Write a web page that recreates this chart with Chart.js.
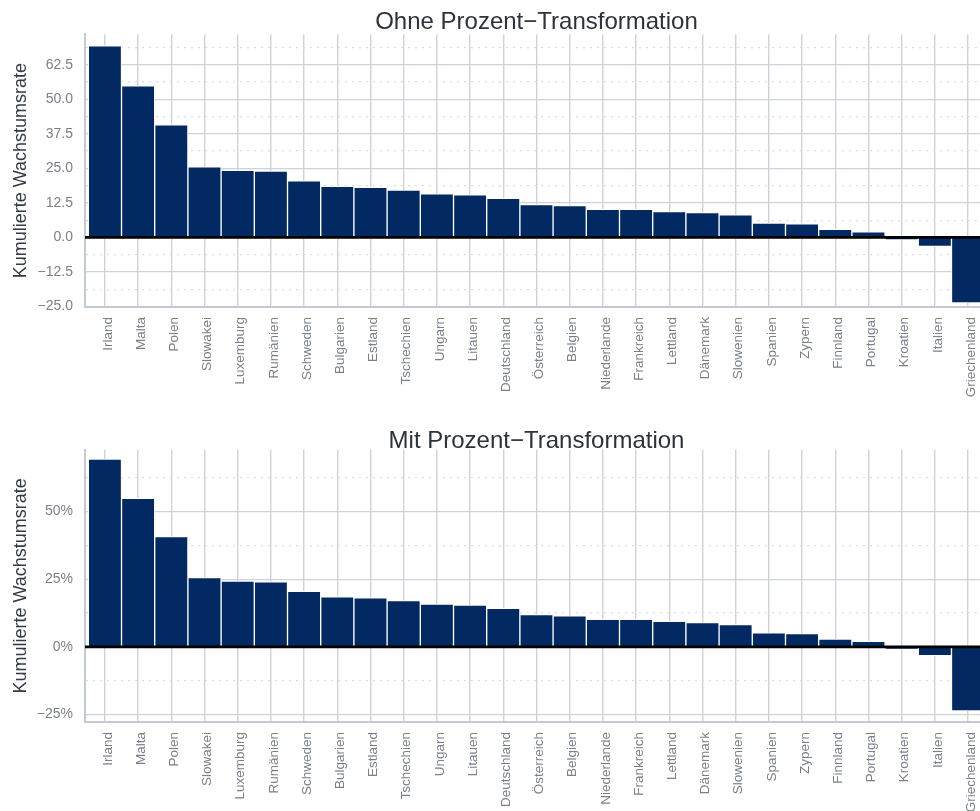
<!DOCTYPE html>
<html>
<head>
<meta charset="utf-8">
<script src="https://cdn.jsdelivr.net/npm/chart.js@4/dist/chart.umd.min.js"></script>
<style>
  html, body { margin: 0; padding: 0; background: #fff; overflow: hidden; width: 980px; height: 811px; }
  .box { position: absolute; left: 0; }
</style>
</head>
<body>
<div class="box" style="top:0px"><canvas id="oben" width="1000" height="405"></canvas></div>
<div class="box" style="top:405px"><canvas id="unten" width="1000" height="425"></canvas></div>
<script>
// Laender, sortiert nach kumulierter Wachstumsrate
const laender = ["Irland","Malta","Polen","Slowakei","Luxemburg","Rumänien","Schweden","Bulgarien","Estland",
  "Tschechien","Ungarn","Litauen","Deutschland","Österreich","Belgien","Niederlande","Frankreich","Lettland",
  "Dänemark","Slowenien","Spanien","Zypern","Finnland","Portugal","Kroatien","Italien","Griechenland"];
const wachstum = [69.4,54.9,40.8,25.6,24.3,24.0,20.5,18.5,18.1,17.1,15.8,15.4,14.2,11.9,11.5,10.2,10.2,9.4,
  9.0,8.2,5.2,4.9,2.9,2.0,-0.9,-3.3,-23.7];

// Achsenbeschriftungen (gross) und gepunktete Hilfslinien (klein)
const yTicksOben = [-25,-12.5,0,12.5,25,37.5,50,62.5];
const yMinorOben = [-18.75,-6.25,6.25,18.75,31.25,43.75,56.25,68.75];
const yTicksUnten = [-25,0,25,50];
const yMinorUnten = [-12.5,12.5,37.5,62.5];

Chart.defaults.font.family = '"Liberation Sans", Arial, sans-serif';
Chart.defaults.animation = false;

const gitter = '#cdd3dd';
const achse = '#c2cad5';
const minus = v => (v < 0 ? '\u2212' : '');

// dicke schwarze Nulllinie ueber den Balken
const nullLinie = {
  id: 'nullLinie',
  afterDatasetsDraw(chart) {
    const ctx = chart.ctx;
    const a = chart.chartArea;
    const py = chart.scales.y.getPixelForValue(0);
    ctx.save();
    ctx.strokeStyle = '#000';
    ctx.lineWidth = 2.6;
    ctx.beginPath();
    ctx.moveTo(a.left, py);
    ctx.lineTo(a.right, py);
    ctx.stroke();
    ctx.restore();
  }
};

const zeichne = (id, titel, major, minor, yMin, yMax, format, titelPad, xHoehe) => {
  const alle = major.concat(minor).sort((a, b) => a - b);
  const istMinor = v => minor.indexOf(v) >= 0;
  new Chart(document.getElementById(id), {
    type: 'bar',
    data: {
      datasets: [{
        data: wachstum.map((v, i) => ({ x: i, y: v })),
        backgroundColor: '#022961',
        borderColor: '#ffffff',
        borderWidth: 1,
        barPercentage: 1,
        categoryPercentage: 1
      }]
    },
    plugins: [nullLinie],
    options: {
      responsive: false,
      layout: { padding: { left: 0, right: 12, top: 0, bottom: 0 } },
      plugins: {
        legend: { display: false },
        tooltip: { enabled: false },
        title: {
          display: true,
          fullSize: false,
          text: titel,
          color: '#2d323c',
          font: { size: 24, weight: 'normal', lineHeight: 0.8 },
          padding: titelPad
        }
      },
      scales: {
        x: {
          type: 'linear',
          offset: false,
          min: -0.6,
          max: laender.length - 0.4,
          afterBuildTicks: s => { s.ticks = laender.map((l, i) => ({ value: i })); },
          afterFit: s => { s.height = xHoehe; },
          ticks: {
            autoSkip: false,
            minRotation: 90,
            maxRotation: 90,
            padding: 10,
            labelOffset: 3,
            color: '#7a7f88',
            font: { size: 13.5 },
            callback: v => laender[Math.round(v)]
          },
          grid: { offset: false, color: gitter, lineWidth: 1.4, drawTicks: false },
          border: { color: achse, width: 2 }
        },
        y: {
          min: yMin,
          max: yMax,
          afterBuildTicks: s => { s.ticks = alle.map(v => ({ value: v })); },
          afterFit: s => { s.width = 85; },
          ticks: {
            autoSkip: false,
            padding: 12,
            color: '#7a7f88',
            font: { size: 14 },
            callback: v => (istMinor(v) ? '' : format(v))
          },
          grid: {
            drawTicks: false,
            color: c => (c.tick && istMinor(c.tick.value) ? '#d9dde3' : gitter),
            lineWidth: c => (c.tick && istMinor(c.tick.value) ? 1.3 : 1.2)
          },
          border: {
            color: achse,
            width: 2,
            dash: c => (c.tick && istMinor(c.tick.value) ? [2, 5] : [])
          },
          title: {
            display: true,
            text: 'Kumulierte Wachstumsrate',
            color: '#343944',
            font: { size: 18 },
            padding: { top: 10, bottom: 0 }
          }
        }
      }
    }
  });
};

zeichne('oben', 'Ohne Prozent\u2212Transformation', yTicksOben, yMinorOben, -25.2, 73.6,
  v => minus(v) + Math.abs(v).toFixed(1), { top: 13, bottom: 2 }, 98);
zeichne('unten', 'Mit Prozent\u2212Transformation', yTicksUnten, yMinorUnten, -27.8, 72.9,
  v => minus(v) + Math.abs(v) + '%', { top: 26.5, bottom: -1 }, 108);
</script>
</body>
</html>
